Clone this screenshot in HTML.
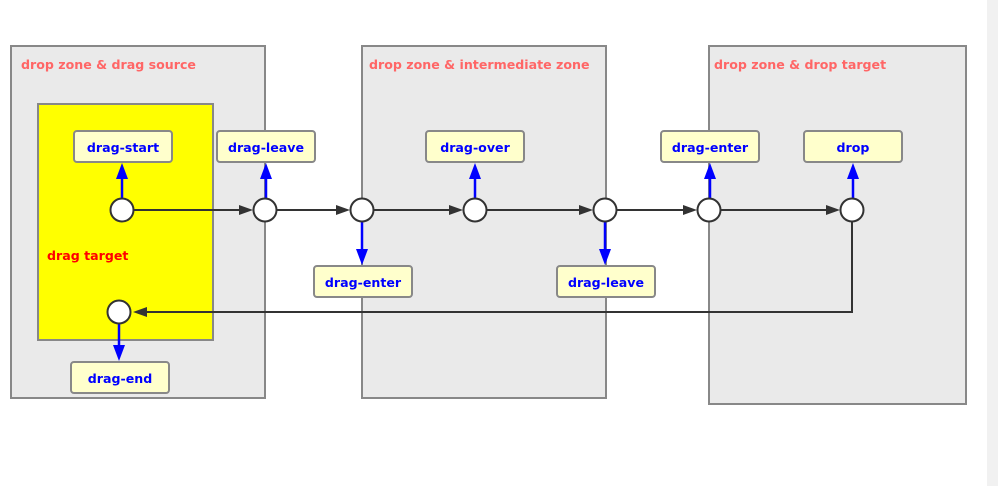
<!DOCTYPE html>
<html><head><meta charset="utf-8"><style>
html,body{margin:0;padding:0;background:#fff;width:998px;height:486px;overflow:hidden}
text{font-family:"DejaVu Sans","Liberation Sans",sans-serif;font-weight:bold;font-size:12.6px}
</style></head><body>
<svg width="998" height="486" xmlns="http://www.w3.org/2000/svg">
<rect x="987" y="0" width="11" height="486" fill="#f1f1f1"/>
<g fill="#eaeaea" stroke="#888" stroke-width="2">
<rect x="11" y="46" width="254" height="352"/>
<rect x="362" y="46" width="244" height="352"/>
<rect x="709" y="46" width="257" height="358"/>
</g>
<rect x="38" y="104" width="175" height="236" fill="#ffff00" stroke="#888" stroke-width="2"/>
<g fill="#ff6666">
<text x="21" y="69">drop zone &amp; drag source</text>
<text x="369" y="69">drop zone &amp; intermediate zone</text>
<text x="714" y="69">drop zone &amp; drop target</text>
</g>
<text x="47" y="260" fill="#f00">drag target</text>
<g stroke="#333" stroke-width="2" fill="none">
<line x1="134" y1="210" x2="242" y2="210"/>
<line x1="277" y1="210" x2="339" y2="210"/>
<line x1="374" y1="210" x2="452" y2="210"/>
<line x1="487" y1="210" x2="582" y2="210"/>
<line x1="617" y1="210" x2="686" y2="210"/>
<line x1="721" y1="210" x2="829" y2="210"/>
<polyline points="852,222 852,312 144,312"/>
</g>
<g fill="#333">
<path d="M239,205 L253,210 L239,215z"/>
<path d="M336,205 L350,210 L336,215z"/>
<path d="M449,205 L463,210 L449,215z"/>
<path d="M579,205 L593,210 L579,215z"/>
<path d="M683,205 L697,210 L683,215z"/>
<path d="M826,205 L840,210 L826,215z"/>
<path d="M147,307 L133,312 L147,317z"/>
</g>
<g stroke="#00f" stroke-width="2.5">
<line x1="122" y1="198" x2="122" y2="175"/>
<line x1="266" y1="198" x2="266" y2="175"/>
<line x1="475" y1="198" x2="475" y2="175"/>
<line x1="710" y1="198" x2="710" y2="175"/>
<line x1="853" y1="198" x2="853" y2="175"/>
<line x1="362" y1="222" x2="362" y2="252"/>
<line x1="605" y1="222" x2="605" y2="252"/>
<line x1="119" y1="324" x2="119" y2="348"/>
</g>
<g fill="#00f">
<path d="M116,179 L122,163 L128,179z"/>
<path d="M260,179 L266,163 L272,179z"/>
<path d="M469,179 L475,163 L481,179z"/>
<path d="M704,179 L710,163 L716,179z"/>
<path d="M847,179 L853,163 L859,179z"/>
<path d="M356,249 L362,265 L368,249z"/>
<path d="M599,249 L605,265 L611,249z"/>
<path d="M113,345 L119,361 L125,345z"/>
</g>
<g fill="#fff" stroke="#333" stroke-width="2">
<circle cx="122" cy="210" r="11.5"/><circle cx="265" cy="210" r="11.5"/>
<circle cx="362" cy="210" r="11.5"/><circle cx="475" cy="210" r="11.5"/>
<circle cx="605" cy="210" r="11.5"/><circle cx="709" cy="210" r="11.5"/>
<circle cx="852" cy="210" r="11.5"/><circle cx="119" cy="312" r="11.5"/>
</g>
<g fill="#ffffcc" stroke="#888" stroke-width="2">
<rect x="74" y="131" width="98" height="31" rx="3"/>
<rect x="217" y="131" width="98" height="31" rx="3"/>
<rect x="426" y="131" width="98" height="31" rx="3"/>
<rect x="661" y="131" width="98" height="31" rx="3"/>
<rect x="804" y="131" width="98" height="31" rx="3"/>
<rect x="314" y="266" width="98" height="31" rx="3"/>
<rect x="557" y="266" width="98" height="31" rx="3"/>
<rect x="71" y="362" width="98" height="31" rx="3"/>
</g>
<g fill="#00f" text-anchor="middle">
<text x="123" y="152">drag-start</text>
<text x="266" y="152">drag-leave</text>
<text x="475" y="152">drag-over</text>
<text x="710" y="152">drag-enter</text>
<text x="853" y="152">drop</text>
<text x="363" y="287">drag-enter</text>
<text x="606" y="287">drag-leave</text>
<text x="120" y="383">drag-end</text>
</g>
</svg>
</body></html>
